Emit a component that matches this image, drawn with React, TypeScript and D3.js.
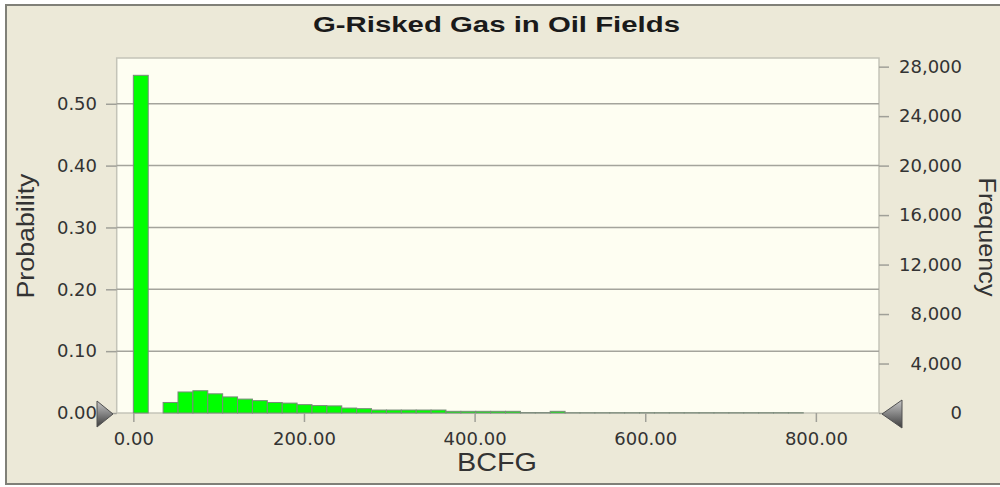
import { useEffect, useRef } from 'react';
import * as d3 from 'd3';

// histogram of forecast values, bins of ~17.45 BCFG starting at 0
const binWidth = 17.45;
const probabilities = [
  0.546, 0, 0.017, 0.034, 0.036, 0.031, 0.026, 0.0225, 0.02, 0.017,
  0.016, 0.0135, 0.012, 0.0115, 0.008, 0.007, 0.0048, 0.0048, 0.0048, 0.0048,
  0.0048, 0.0027, 0.0027, 0.0027, 0.0027, 0.0027, 0.0006, 0.0006, 0.0027, 0.0004,
  0.0004, 0.0004, 0.0004, 0.0004, 0.0004, 0.0004, 0.0004, 0.0004, 0.0004, 0.0004,
  0.0004, 0.0004, 0.0004, 0.0004, 0.0004,
];
const trials = 50000;
const probTicks = [0, 0.1, 0.2, 0.3, 0.4, 0.5];
const freqTicks = [0, 4000, 8000, 12000, 16000, 20000, 24000, 28000];
const xTicks = [0, 200, 400, 600, 800];

const App = () => {
  const ref = useRef<SVGSVGElement>(null);

  useEffect(() => {
    const svg = d3.select(ref.current);
    svg.selectAll('*').remove();

    const width = 1000; const height = 487;
    const left = 116.7; const right = 879; const top = 58; const bottom = 413;
    const font = 'DejaVu Sans, sans-serif';
    const titleFont = 'Liberation Sans, Arial, sans-serif';

    const x = d3.scaleLinear().domain([-19.5, 874]).range([left, right]);
    const yProb = d3.scaleLinear().domain([0, 0.574]).range([bottom, top]);
    const yFreq = d3.scaleLinear().domain([0, 0.574 * trials]).range([bottom, top]);

    // page background + frame
    svg.append('rect').attr('width', width).attr('height', height).attr('fill', '#ffffff');
    svg.append('rect')
      .attr('x', 6).attr('y', 5).attr('width', width).attr('height', 479)
      .attr('fill', '#ECE9D8')
      .attr('stroke', '#808078').attr('stroke-width', 2);

    const defs = svg.append('defs');
    const grad = defs.append('linearGradient').attr('id', 'tri-grad')
      .attr('x1', '0%').attr('y1', '0%').attr('x2', '0%').attr('y2', '100%');
    grad.append('stop').attr('offset', '0%').attr('stop-color', '#c8c8c8');
    grad.append('stop').attr('offset', '100%').attr('stop-color', '#3c3c3c');

    // title
    svg.append('text')
      .attr('x', 496.5).attr('y', 31.5)
      .attr('text-anchor', 'middle')
      .attr('font-family', titleFont).attr('font-weight', 'bold').attr('font-size', 22)
      .attr('textLength', 367).attr('lengthAdjust', 'spacingAndGlyphs')
      .attr('fill', '#1a1a1a')
      .text('G-Risked Gas in Oil Fields');

    // plot area
    svg.append('rect')
      .attr('x', left).attr('y', top).attr('width', right - left).attr('height', bottom - top)
      .attr('fill', '#FEFEF2').attr('stroke', '#c4c4b8').attr('stroke-width', 1.5);

    // gridlines
    svg.append('g').selectAll('line')
      .data(probTicks.filter(d => d > 0))
      .enter().append('line')
      .attr('x1', left).attr('x2', right)
      .attr('y1', d => yProb(d)).attr('y2', d => yProb(d))
      .attr('stroke', '#a4a49c').attr('stroke-width', 1.5);

    // bars
    svg.append('g').selectAll('rect')
      .data(probabilities)
      .enter().append('rect')
      .attr('x', (d, i) => x(i * binWidth))
      .attr('width', x(binWidth) - x(0))
      .attr('y', d => yProb(d))
      .attr('height', d => yProb(0) - yProb(d))
      .attr('fill', d => (d > 0.002 ? '#00FF00' : '#8a8a84'))
      .attr('stroke', d => (d > 0 ? '#7a8a7a' : 'none'))
      .attr('stroke-width', 1);

    const styleAxis = (g: any) => {
      g.select('.domain').remove();
      g.selectAll('.tick line').attr('stroke', '#a0a098').attr('stroke-width', 1.5);
      g.selectAll('.tick text')
        .attr('font-family', font).attr('font-size', 18).attr('fill', '#333333');
    };

    // left axis (probability)
    svg.append('g')
      .attr('transform', `translate(${left},0)`)
      .call(d3.axisLeft(yProb).tickValues(probTicks).tickSize(10.7).tickPadding(9)
        .tickFormat(d3.format('.2f')))
      .call(styleAxis);

    // right axis (frequency)
    const rightAxis = svg.append('g')
      .attr('transform', `translate(${right},0)`)
      .call(d3.axisRight(yFreq).tickValues(freqTicks).tickSize(10)
        .tickFormat(d3.format(',')))
      .call(styleAxis);
    rightAxis.selectAll('.tick text').attr('x', 83).attr('text-anchor', 'end');

    // bottom axis
    svg.append('g')
      .attr('transform', `translate(0,${bottom})`)
      .call(d3.axisBottom(x).tickValues(xTicks).tickSize(9).tickPadding(10)
        .tickFormat(d3.format('.2f')))
      .call(styleAxis);

    // axis titles
    svg.append('text')
      .attr('x', 497).attr('y', 471)
      .attr('text-anchor', 'middle')
      .attr('font-family', titleFont).attr('font-size', 26)
      .attr('textLength', 80).attr('lengthAdjust', 'spacingAndGlyphs')
      .attr('fill', '#333333')
      .text('BCFG');

    svg.append('text')
      .attr('transform', 'translate(34,236) rotate(-90)')
      .attr('text-anchor', 'middle')
      .attr('font-family', titleFont).attr('font-size', 23)
      .attr('textLength', 125).attr('lengthAdjust', 'spacingAndGlyphs')
      .attr('fill', '#333333')
      .text('Probability');

    svg.append('text')
      .attr('transform', 'translate(979,237) rotate(90)')
      .attr('text-anchor', 'middle')
      .attr('font-family', titleFont).attr('font-size', 23)
      .attr('textLength', 119).attr('lengthAdjust', 'spacingAndGlyphs')
      .attr('fill', '#333333')
      .text('Frequency');

    // range markers
    svg.append('path')
      .attr('d', 'M97,401 L113,414 L97,427 Z')
      .attr('fill', 'url(#tri-grad)').attr('stroke', '#505050').attr('stroke-width', 1);
    svg.append('path')
      .attr('d', 'M902,400 L882,414 L902,428 Z')
      .attr('fill', 'url(#tri-grad)').attr('stroke', '#505050').attr('stroke-width', 1);
  }, []);

  return (
    <svg ref={ref} width={1000} height={487}
      style={{ position: 'absolute', left: 0, top: 0, display: 'block' }} />
  );
};

export default App;
